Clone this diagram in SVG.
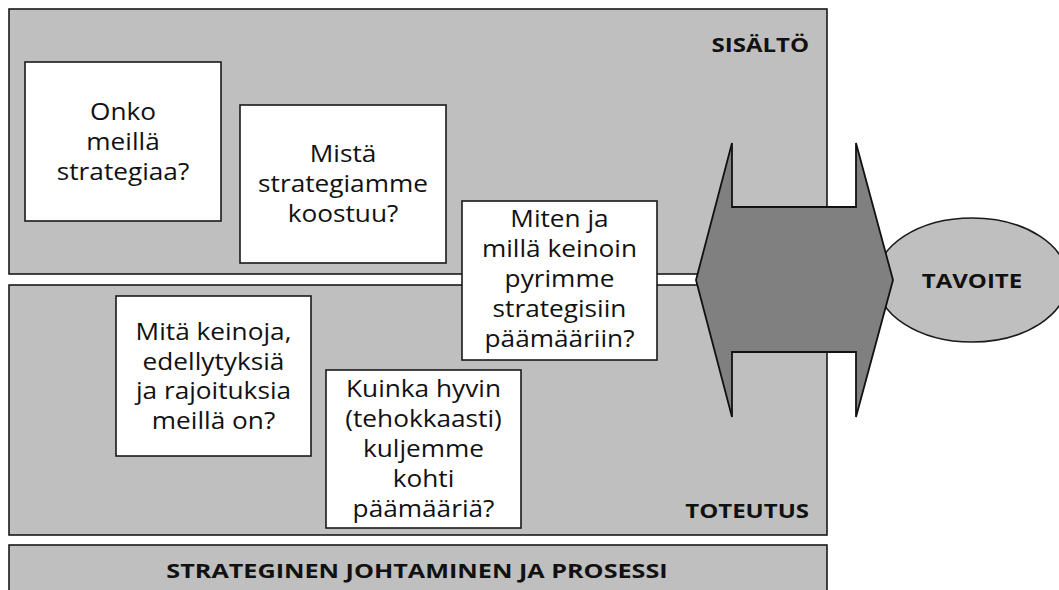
<svg xmlns="http://www.w3.org/2000/svg" width="1059" height="590" viewBox="0 0 1059 590">
  <style>
    .panel { fill: #bfbfbf; stroke: #1a1a1a; stroke-width: 1.6; }
    .box { fill: #ffffff; stroke: #1a1a1a; stroke-width: 1.6; }
    .arrow { fill: #808080; stroke: #111111; stroke-width: 1.8; stroke-linejoin: miter; }
    .goal { fill: #bfbfbf; stroke: #1a1a1a; stroke-width: 1.6; }
    .q { font-family: "Open Sans", "Noto Sans", sans-serif; font-size: 23px; fill: #111111; text-anchor: middle; }
    .lbl { font-family: "Open Sans", "Noto Sans", sans-serif; font-size: 20px; font-weight: bold; fill: #111111; }
  </style>
  <rect width="1059" height="590" fill="#ffffff"/>

  <g id="panel-sisalto">
    <rect class="panel" x="9" y="9" width="818" height="265"/>
    <g transform="translate(809 0) scale(1.2 1)"><text class="lbl" x="0" y="52" text-anchor="end">SISÄLTÖ</text></g>
  </g>

  <g id="panel-toteutus">
    <rect class="panel" x="9" y="285" width="818" height="250"/>
    <g transform="translate(809 0) scale(1.2 1)"><text class="lbl" x="0" y="518" text-anchor="end">TOTEUTUS</text></g>
  </g>

  <g id="panel-prosessi">
    <rect class="panel" x="9" y="545" width="818" height="60"/>
    <g transform="translate(417 0) scale(1.26 1)"><text class="lbl" x="0" y="578" text-anchor="middle" font-size="21">STRATEGINEN JOHTAMINEN JA PROSESSI</text></g>
  </g>

  <g id="node-onko">
    <rect class="box" x="25" y="62" width="196" height="159"/>
    <g transform="translate(123 0) scale(1.14 1)">
      <text class="q" x="0" y="120">Onko</text>
      <text class="q" x="0" y="150">meillä</text>
      <text class="q" x="0" y="180">strategiaa?</text>
    </g>
  </g>

  <g id="node-mista">
    <rect class="box" x="240" y="105" width="206" height="158"/>
    <g transform="translate(343 0) scale(1.14 1)">
      <text class="q" x="0" y="162">Mistä</text>
      <text class="q" x="0" y="192">strategiamme</text>
      <text class="q" x="0" y="222">koostuu?</text>
    </g>
  </g>

  <g id="node-miten">
    <rect class="box" x="462" y="201" width="195" height="159"/>
    <g transform="translate(559.5 0) scale(1.14 1)">
      <text class="q" x="0" y="227">Miten ja</text>
      <text class="q" x="0" y="257">millä keinoin</text>
      <text class="q" x="0" y="287">pyrimme</text>
      <text class="q" x="0" y="317">strategisiin</text>
      <text class="q" x="0" y="347">päämääriin?</text>
    </g>
  </g>

  <g id="node-mita">
    <rect class="box" x="116" y="296" width="195" height="160"/>
    <g transform="translate(213.5 0) scale(1.14 1)">
      <text class="q" x="0" y="340">Mitä keinoja,</text>
      <text class="q" x="0" y="370">edellytyksiä</text>
      <text class="q" x="0" y="399">ja rajoituksia</text>
      <text class="q" x="0" y="429">meillä on?</text>
    </g>
  </g>

  <g id="node-kuinka">
    <rect class="box" x="326" y="370" width="195" height="158"/>
    <g transform="translate(423.5 0) scale(1.14 1)">
      <text class="q" x="0" y="397">Kuinka hyvin</text>
      <text class="q" x="0" y="427">(tehokkaasti)</text>
      <text class="q" x="0" y="457">kuljemme</text>
      <text class="q" x="0" y="487">kohti</text>
      <text class="q" x="0" y="517">päämääriä?</text>
    </g>
  </g>

  <g id="node-tavoite">
    <ellipse class="goal" cx="972" cy="280" rx="96" ry="62"/>
    <g transform="translate(972 0) scale(1.2 1)"><text class="lbl" x="0" y="288" text-anchor="middle" font-size="21">TAVOITE</text></g>
  </g>

  <g id="connectors">
    <polygon class="arrow" points="696,280 732,143 732,207 856,207 856,143 893,280 856,417 856,352 732,352 732,417"/>
  </g>
</svg>
